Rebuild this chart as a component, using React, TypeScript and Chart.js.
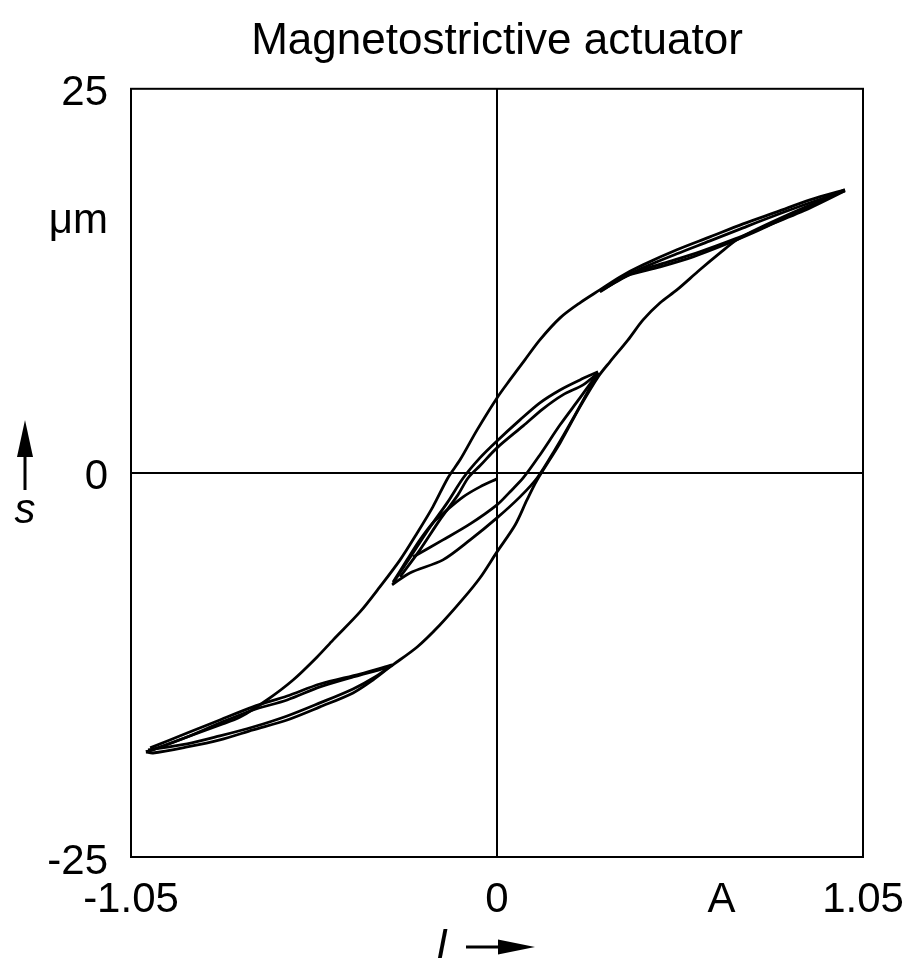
import React, { useEffect, useRef } from "react";
import { Chart, registerables } from "chart.js";

Chart.register(...registerables);

const chartTitle = "Magnetostrictive actuator";
const xTickValues = [-1.05, 0, 0.644, 1.05];
const xTickLabels = ["-1.05", "0", "A", "1.05"];
const yTickValues = [-25, 0, 16.7, 25];
const yTickLabels = ["-25", "0", "μm", "25"];
const xAxisSymbol = "I";
const yAxisSymbol = "s";

// major loop, descending branch (upper)
const majorDescI = [0.998, 0.898, 0.803, 0.706, 0.611, 0.516, 0.419, 0.353, 0.295, 0.238, 0.181, 0.123, 0.08, 0.037, 0, -0.057, -0.106, -0.141, -0.184, -0.229, -0.278, -0.336, -0.393, -0.47, -0.516, -0.585, -0.66, -0.737, -0.795, -0.889, -0.967, -1.007];
const majorDescS = [18.42, 17.77, 16.99, 16.21, 15.36, 14.52, 13.54, 12.76, 11.91, 11.07, 10.09, 8.66, 7.36, 6.05, 4.88, 2.8, 0.85, -0.33, -2.21, -3.91, -5.66, -7.42, -9.05, -10.87, -11.98, -13.48, -14.78, -15.89, -16.41, -17.19, -17.84, -18.16];

// major loop, ascending branch (lower)
const majorAscI = [-1.007, -0.987, -0.889, -0.795, -0.7, -0.602, -0.508, -0.413, -0.356, -0.307, -0.229, -0.164, -0.1, -0.049, 0, 0.052, 0.086, 0.115, 0.181, 0.238, 0.29, 0.324, 0.376, 0.419, 0.468, 0.516, 0.582, 0.64, 0.688, 0.754, 0.841, 0.927, 0.998];
const majorAscS = [-18.16, -18.23, -17.84, -17.38, -16.73, -16.08, -15.23, -14.32, -13.48, -12.63, -11.33, -9.9, -8.27, -6.84, -5.14, -3.39, -1.76, -0.46, 1.95, 4.3, 6.25, 7.23, 8.66, 9.96, 11.07, 11.91, 13.22, 14.32, 15.17, 15.95, 16.86, 17.71, 18.42];

// bottom-left minor loop traces
const blDescI = [-0.307, -0.413, -0.508, -0.602, -0.7, -0.795, -0.889, -0.987, -1.007];
const blDescS = [-12.63, -13.28, -13.93, -14.78, -15.43, -16.28, -17.19, -18.03, -18.16];
const blAscI = [-1.001, -0.889, -0.795, -0.7, -0.602, -0.508, -0.413, -0.35, -0.301];
const blAscS = [-18.03, -17.64, -17.12, -16.54, -15.82, -14.97, -14.06, -13.28, -12.5];
const blDesc2I = [-0.301, -0.393, -0.508, -0.602, -0.7, -0.795, -0.889, -0.995];
const blDesc2S = [-12.5, -13.09, -13.74, -14.52, -15.23, -16.08, -16.93, -17.9];

// top-right minor loop traces
const trAscI = [0.295, 0.373, 0.468, 0.562, 0.66, 0.754, 0.849, 0.927, 0.998];
const trAscS = [11.78, 12.83, 13.41, 14.06, 14.91, 15.82, 16.86, 17.64, 18.42];
const trDescI = [0.998, 0.898, 0.803, 0.706, 0.611, 0.516, 0.419, 0.353, 0.301];
const trDescS = [18.36, 17.58, 16.8, 15.95, 15.1, 14.26, 13.35, 12.57, 11.91];
const trAsc2I = [0.304, 0.382, 0.482, 0.582, 0.683, 0.783, 0.898, 0.998];
const trAsc2S = [11.98, 12.96, 13.67, 14.39, 15.23, 16.15, 17.25, 18.36];

// central minor loop traces
const cDescI = [0.29, 0.238, 0.181, 0.123, 0.066, 0, -0.049, -0.097, -0.143, -0.192, -0.241, -0.298];
const cDescS = [6.58, 6.05, 5.4, 4.56, 3.45, 2.08, 0.98, -0.33, -1.95, -3.52, -5.21, -7.16];
const cDesc2I = [0.29, 0.247, 0.189, 0.132, 0.075, 0, -0.049, -0.083, -0.112, -0.164, -0.221, -0.278];
const cDesc2S = [6.51, 5.73, 5.08, 4.17, 3.06, 1.63, 0.46, -0.33, -1.43, -3.06, -5.01, -6.77];
const cAscI = [-0.301, -0.25, -0.155, -0.077, 0, 0.066, 0.115, 0.166, 0.224, 0.29];
const cAscS = [-7.29, -6.51, -5.66, -4.36, -2.93, -1.56, -0.33, 1.5, 3.78, 6.51];
const cAsc2I = [-0.241, -0.155, -0.077, 0, 0.037, 0.075, 0.123, 0.181, 0.238, 0.29];
const cAsc2S = [-5.47, -4.36, -3.32, -2.08, -1.24, -0.33, 1.17, 3.13, 4.88, 6.51];

// initial curve from the origin
const initI = [0, -0.049, -0.097, -0.143, -0.184, -0.221, -0.258, -0.298];
const initS = [-0.39, -0.91, -1.56, -2.41, -3.26, -4.36, -5.66, -7.1];

const traces: [number[], number[]][] = [
  [majorDescI, majorDescS],
  [majorAscI, majorAscS],
  [blDescI, blDescS],
  [blAscI, blAscS],
  [blDesc2I, blDesc2S],
  [trAscI, trAscS],
  [trDescI, trDescS],
  [trAsc2I, trAsc2S],
  [cDescI, cDescS],
  [cDesc2I, cDesc2S],
  [cAscI, cAscS],
  [cAsc2I, cAsc2S],
  [initI, initS],
];

const FONT = "'Liberation Sans', Arial, Helvetica, sans-serif";

const framePlugin = {
  id: "frame",
  afterDatasetsDraw(chart: any) {
    const { ctx, chartArea: a } = chart;
    ctx.save();
    ctx.strokeStyle = "#000";
    ctx.lineWidth = 2;
    ctx.strokeRect(a.left, a.top, a.right - a.left, a.bottom - a.top);
    ctx.restore();
  },
};

const symbolPlugin = {
  id: "symbols",
  afterDraw(chart: any) {
    const { ctx } = chart;
    ctx.save();
    ctx.fillStyle = "#000";
    ctx.strokeStyle = "#000";
    ctx.font = "italic 42px " + FONT;
    ctx.textAlign = "center";
    ctx.textBaseline = "alphabetic";
    ctx.fillText(yAxisSymbol, 25, 523);
    ctx.lineWidth = 3;
    ctx.beginPath();
    ctx.moveTo(25, 490);
    ctx.lineTo(25, 450);
    ctx.stroke();
    ctx.beginPath();
    ctx.moveTo(25, 420);
    ctx.lineTo(33, 457);
    ctx.lineTo(17, 457);
    ctx.closePath();
    ctx.fill();
    ctx.fillText(xAxisSymbol, 442, 958);
    ctx.beginPath();
    ctx.moveTo(466, 947);
    ctx.lineTo(505, 947);
    ctx.stroke();
    ctx.beginPath();
    ctx.moveTo(535, 947);
    ctx.lineTo(498, 939.5);
    ctx.lineTo(498, 954.5);
    ctx.closePath();
    ctx.fill();
    ctx.restore();
  },
};

export default function App() {
  const canvasRef = useRef<HTMLCanvasElement | null>(null);

  useEffect(() => {
    if (!canvasRef.current) return;
    const datasets = traces.map(([xs, ys]) => ({
      data: xs.map((x, i) => ({ x, y: ys[i] })),
      showLine: true,
      borderColor: "#000",
      backgroundColor: "#000",
      borderWidth: 2.8,
      pointRadius: 0,
      tension: 0.3,
      fill: false,
    }));
    const zeroColor = (c: any) => (c.tick && c.tick.value === 0 ? "#000" : "rgba(0,0,0,0)");
    const chart = new Chart(canvasRef.current, {
      type: "scatter",
      data: { datasets },
      options: {
        animation: false,
        responsive: false,
        layout: { padding: 0 },
        plugins: {
          legend: { display: false },
          tooltip: { enabled: false },
          title: {
            display: true,
            fullSize: false,
            text: chartTitle,
            color: "#000",
            font: { family: FONT, size: 44, weight: "normal" },
            padding: { top: 15, bottom: 21 },
          },
        },
        scales: {
          x: {
            type: "linear",
            min: -1.05,
            max: 1.05,
            afterBuildTicks: (s: any) => {
              s.ticks = xTickValues.map((v) => ({ value: v }));
            },
            afterFit: (s: any) => {
              s.height = 105;
              s.paddingLeft = 0;
              s.paddingRight = 41;
            },
            ticks: {
              autoSkip: false,
              maxRotation: 0,
              color: "#000",
              padding: 18,
              font: { family: FONT, size: 42 },
              callback: (v: any) => {
                const i = xTickValues.indexOf(Number(v));
                return i >= 0 ? xTickLabels[i] : "";
              },
            },
            grid: { display: true, drawTicks: false, color: zeroColor, lineWidth: 2 },
            border: { display: false },
          },
          y: {
            type: "linear",
            min: -25,
            max: 25,
            afterBuildTicks: (s: any) => {
              s.ticks = yTickValues.map((v) => ({ value: v }));
            },
            afterFit: (s: any) => {
              s.width = 131;
              s.paddingTop = 0;
              s.paddingBottom = 0;
            },
            ticks: {
              autoSkip: false,
              color: "#000",
              padding: 23,
              labelOffset: 5,
              font: { family: FONT, size: 42 },
              callback: (v: any) => {
                const i = yTickValues.indexOf(Number(v));
                return i >= 0 ? yTickLabels[i] : "";
              },
            },
            grid: { display: true, drawTicks: false, color: zeroColor, lineWidth: 2 },
            border: { display: false },
          },
        },
      },
      plugins: [framePlugin, symbolPlugin],
    } as any);
    return () => chart.destroy();
  }, []);

  return (
    <div style={{ position: "absolute", left: 0, top: 0, width: 904, height: 962, background: "#fff" }}>
      <canvas ref={canvasRef} width={904} height={962} style={{ display: "block" }} />
    </div>
  );
}
